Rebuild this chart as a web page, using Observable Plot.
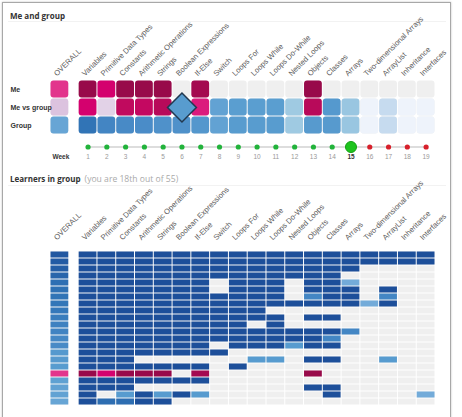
<!DOCTYPE html>
<html>
<head>
<meta charset="utf-8">
<script src="https://cdn.jsdelivr.net/npm/d3@7"></script>
<script src="https://cdn.jsdelivr.net/npm/@observablehq/plot@0.6"></script>
<style>
  html, body { margin: 0; padding: 0; background: #fff; overflow: hidden; }
  body { width: 462px; height: 417px; position: relative; font-family: "Open Sans", "Liberation Sans", sans-serif; }
  .frame { position: absolute; left: 2px; top: 2px; width: 447px; height: 500px; border: 1px solid #a8a8a8; box-shadow: 0 0 2px rgba(0,0,0,0.25); }
  .heading { position: absolute; left: 10px; font-size: 8px; font-weight: 700; color: #333; white-space: nowrap; line-height: 12px; }
  .heading .note { font-size: 8.6px; font-weight: 400; color: #aaa; margin-left: 4px; }
  .rule { position: absolute; left: 8px; width: 438px; height: 1px; background: #f2f2f2; }
  #top, #bottom { position: absolute; left: 0; }
  #top { top: 0; }
  #bottom { top: 170px; }
</style>
</head>
<body>
<div class="frame"></div>
<div class="heading" style="top:10px">Me and group</div>
<div class="rule" style="top:21px"></div>
<div class="heading" style="top:173px">Learners in group<span class="note">(you are 18th out of 55)</span></div>
<div class="rule" style="top:185px"></div>
<div id="top"></div>
<div id="bottom"></div>
<script>
const topics = ["Variables", "Primitive Data Types", "Constants", "Arithmetic Operations", "Strings",
  "Boolean Expressions", "If-Else", "Switch", "Loops For", "Loops While", "Loops Do-While", "Nested Loops",
  "Objects", "Classes", "Arrays", "Two-dimensional Arrays", "ArrayList", "Inheritance", "Interfaces"];
const columns = ["OVERALL", ...topics];
const rowNames = ["Me", "Me vs group", "Group"];

// My progress per column (OVERALL first); null = not started yet
const meScores = [0.6, 1, 0.8, 1, 1, 1, null, 0.97, null, null, null, null, null, 1, null, null, null, null, null, null];
// Group average progress per column
const groupScores = [0.6, 0.86, 0.78, 0.76, 0.75, 0.72, 0.72, 0.69, 0.62, 0.66, 0.66, 0.66, 0.4, 0.67, 0.67, 0.42, 0.05, 0.25, 0.05, 0.05];
// Me vs group: negative = I am ahead (pink), positive = the group is ahead (blue)
const vsScores = [-0.3, -0.8, -0.22, -0.9, -0.88, -0.92, null, -0.7, 0.62, 0.65, 0.65, 0.65, 0.4, -0.92, 0.68, 0.42, 0.05, 0.25, 0.05, 0.05];
// Topic currently in focus, drawn as a diamond
const focusTopic = "Boolean Expressions";
const focusValue = 0.66;

const weeks = d3.range(1, 20);
const currentWeek = 15;

// Learners ranked by progress; my own row is slotted in at myRank
const myRank = 18;
const groupSize = 55;
const othersOverall = [0.97, 0.96, 0.95, 0.92, 0.88, 0.87, 0.86, 0.85, 0.84, 0.82, 0.8, 0.79, 0.77, 0.76, 0.68, 0.67, 0.66, 0.63, 0.62, 0.62, 0.6];
// one character per topic: digit = progress level out of 9, "." = not started
const othersTopics = [
  "9999999999999999999",
  "9999999999999999999",
  "999999999999999....",
  "99999999999999.....",
  "9999999.999.995....",
  "9999999.999.999.9..",
  "99999999999.799.7..",
  "99999999999999959..",
  "9999999999.........",
  "99999999999.99.....",
  "999999999.9........",
  "999999999999997....",
  "99999999999997.....",
  "9999999.999699.....",
  "99999999...........",
  "999......66.99..6..",
  "9999999.9..........",
  "9999999............",
  "999.........99.....",
  "9.69696......9....5",
  "98899.............."
];

// Pink for my own values, blue for the group, grey in the middle
const colorStops = [-1, -0.9, -0.8, -0.6, -0.3, -0.15, 0, 0.05, 0.25, 0.4, 0.55, 0.65, 0.75, 0.85, 0.95, 1];
const colorRange = ["#980a4a", "#c00a5e", "#d4016e", "#e2358c", "#dcc3df", "#e8dfee", "#f0f0f0", "#eef3fb",
  "#c6dbef", "#9fcae2", "#74acd9", "#5a9ed0", "#4a8cc8", "#3276b8", "#255ea6", "#1d4f9a"];
const color = {type: "linear", domain: colorStops, range: colorRange};
const emptyFill = "#efefef";

// OVERALL sits half a column apart from the topic columns
const GAP = 0.5;
const colLeft = i => (i === 0 ? -1 - GAP : i - 1);
const colMid = i => colLeft(i) + 0.5;
const xScale = {domain: [-1 - GAP, topics.length], range: [50, 435], axis: null};
const font = {fontFamily: "'Liberation Sans', Arial, sans-serif", fontSize: "7px", background: "none", overflow: "visible"};

const columnLabels = Plot.text(columns, {
  x: (d, i) => colMid(i), frameAnchor: "top", rotate: -45, textAnchor: "start", lineAnchor: "bottom",
  dx: -3, dy: -2, fill: "#5a5a5a", fontSize: 7.6
});

// ---- Me and group ----
const topCells = [];
rowNames.forEach((row, r) => columns.forEach((col, i) => {
  let value;
  if (r === 0) value = meScores[i] == null ? null : -meScores[i];
  else if (r === 1) value = vsScores[i];
  else value = groupScores[i];
  topCells.push({row, col, i, value});
}));
const focusIndex = columns.indexOf(focusTopic);

const topPlot = Plot.plot({
  width: 462, height: 170,
  marginTop: 78, marginBottom: 17, marginLeft: 0, marginRight: 0,
  x: xScale,
  y: {domain: [...rowNames, "Week"], padding: 0, axis: null},
  color,
  style: font,
  marks: [
    Plot.barX(topCells, {x1: d => colLeft(d.i), x2: d => colLeft(d.i) + 1, y: "row", fill: emptyFill, inset: 0.5, rx: 3}),
    Plot.barX(topCells.filter(d => d.value != null), {x1: d => colLeft(d.i), x2: d => colLeft(d.i) + 1, y: "row", fill: "value", inset: 0.5, rx: 3}),
    Plot.dot([{row: "Me vs group", value: focusValue}], {x: () => colMid(focusIndex), y: "row", symbol: "diamond2", r: 13, fill: "value", stroke: "#22384f", strokeWidth: 1.5}),
    columnLabels,
    Plot.text(rowNames, {y: d => d, frameAnchor: "left", dx: 10, textAnchor: "start", fontWeight: "bold", fill: "#333", fontSize: 7}),
    Plot.line(weeks, {x: w => colMid(w), y: () => "Week", dy: 3.5, stroke: "#bbb", strokeWidth: 1}),
    Plot.dot(weeks.filter(w => w < currentWeek), {x: w => colMid(w), y: () => "Week", dy: 3.5, r: 2.6, fill: "#22b33b"}),
    Plot.dot(weeks.filter(w => w > currentWeek), {x: w => colMid(w), y: () => "Week", dy: 3.5, r: 2.6, fill: "#d7202b"}),
    Plot.dot([currentWeek], {x: w => colMid(w), y: () => "Week", dy: 3.5, r: 5.5, fill: "#1ec41e", stroke: "#14a014", strokeWidth: 1}),
    Plot.text(weeks.filter(w => w !== currentWeek), {x: w => colMid(w), y: () => "Week", dy: 13, text: d => String(d), fill: "#999", fontSize: 6.5}),
    Plot.text([currentWeek], {x: w => colMid(w), y: () => "Week", dy: 13, text: d => String(d), fill: "#333", fontWeight: "bold", fontSize: 6.5}),
    Plot.text(["Week"], {x: () => colLeft(0) + 1, y: () => "Week", dy: 13, textAnchor: "end", fontWeight: "bold", fill: "#333", fontSize: 6.5})
  ]
});
document.getElementById("top").append(topPlot);

// ---- Learners in group ----
const ranks = d3.range(1, othersTopics.length + 2);
const learnerCells = [];
let k = 0;
for (const rank of ranks) {
  let values;
  if (rank === myRank) {
    values = meScores.map(v => (v == null ? null : -v));
  } else {
    const codes = othersTopics[k];
    values = [othersOverall[k], ...Array.from(codes, c => (c === "." ? null : +c / 9))];
    k++;
  }
  values.forEach((value, i) => learnerCells.push({rank, i, value}));
}

const bottomPlot = Plot.plot({
  width: 462, height: 247,
  marginTop: 72, marginBottom: 2.5, marginLeft: 0, marginRight: 0,
  x: xScale,
  y: {domain: ranks, padding: 0, axis: null},
  color,
  style: font,
  marks: [
    Plot.barX(learnerCells, {x1: d => colLeft(d.i), x2: d => colLeft(d.i) + 1, y: "rank", fill: emptyFill, inset: 0.5}),
    Plot.barX(learnerCells.filter(d => d.value != null), {x1: d => colLeft(d.i), x2: d => colLeft(d.i) + 1, y: "rank", fill: "value", inset: 0.5}),
    columnLabels
  ]
});
document.getElementById("bottom").append(bottomPlot);
</script>
</body>
</html>
